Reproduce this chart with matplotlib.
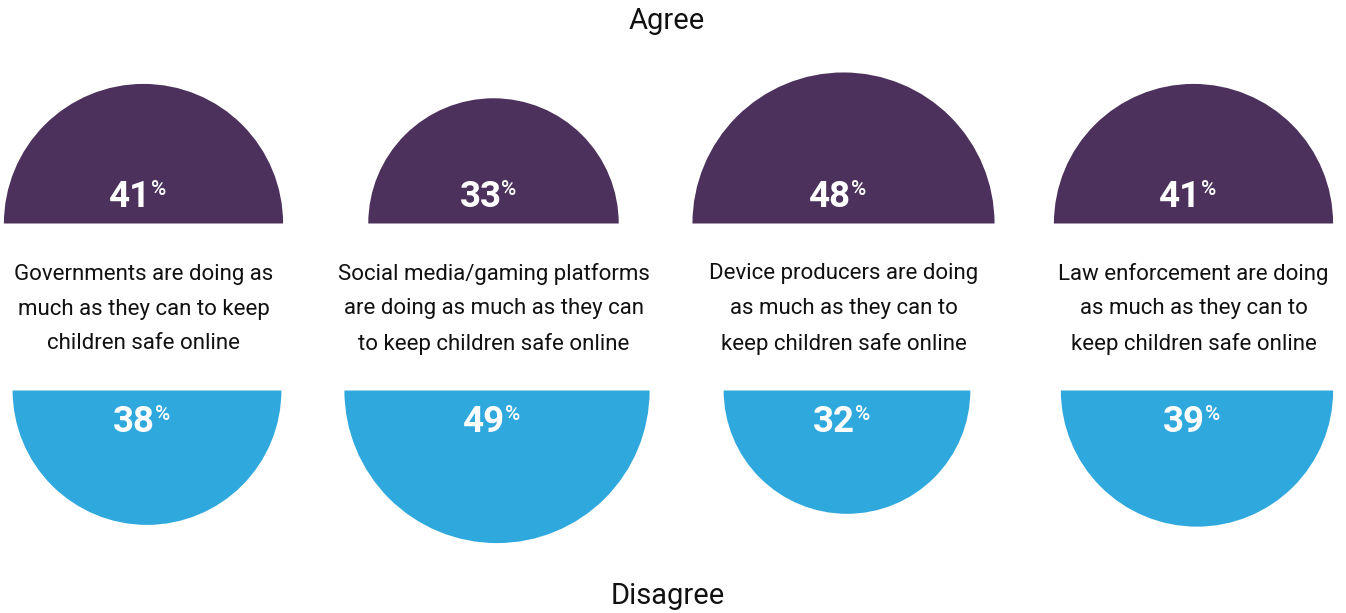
import numpy as np
import matplotlib.pyplot as plt
from matplotlib.patches import Wedge

statements = [
    "Governments are doing as\nmuch as they can to keep\nchildren safe online",
    "Social media/gaming platforms\nare doing as much as they can\nto keep children safe online",
    "Device producers are doing\nas much as they can to\nkeep children safe online",
    "Law enforcement are doing\nas much as they can to\nkeep children safe online",
]
agree = [41, 33, 48, 41]
disagree = [38, 49, 32, 39]

PURPLE = "#4c315c"
BLUE = "#2fa8de"
W, H = 1346, 613
scale = 21.8  # px per sqrt(percent), so half-disc area follows the value

plt.rcParams['font.family'] = ['Roboto', 'DejaVu Sans']

fig = plt.figure(figsize=(W / 100, H / 100), dpi=100)
ax = fig.add_axes([0, 0, 1, 1])
ax.set_xlim(0, W)
ax.set_ylim(0, H)
ax.set_aspect('equal')
ax.axis('off')

top_base = H - 223.5
bot_base = H - 390.5


def value_label(x, y, val):
    ax.text(x + 8, y, str(val), color='white', fontsize=26.5, fontweight='bold',
            ha='right', va='baseline')
    ax.text(x + 8, y + 12, '%', color='white', fontsize=15, fontweight='medium',
            ha='left', va='baseline')


for i, (text, a, d) in enumerate(zip(statements, agree, disagree)):
    cx_top = 143.5 + 350 * i
    cx_bot = 147 + 350 * i
    ra = scale * np.sqrt(a)
    rd = scale * np.sqrt(d)
    ax.add_patch(Wedge((cx_top, top_base), ra, 0, 180, color=PURPLE, lw=0))
    ax.add_patch(Wedge((cx_bot, bot_base), rd, 180, 360, color=BLUE, lw=0))
    value_label(cx_top, H - 207, a)
    value_label(cx_bot, H - 432, d)
    ax.text(cx_top, H - 309, text, ha='center', va='center', fontsize=16,
            color='#111111', linespacing=1.84)

ax.text(667, H - 21, 'Agree', ha='center', va='center', fontsize=21, color='#111111')
ax.text(668, H - 596, 'Disagree', ha='center', va='center', fontsize=21, color='#111111')

fig.savefig('out.png', dpi=100)
